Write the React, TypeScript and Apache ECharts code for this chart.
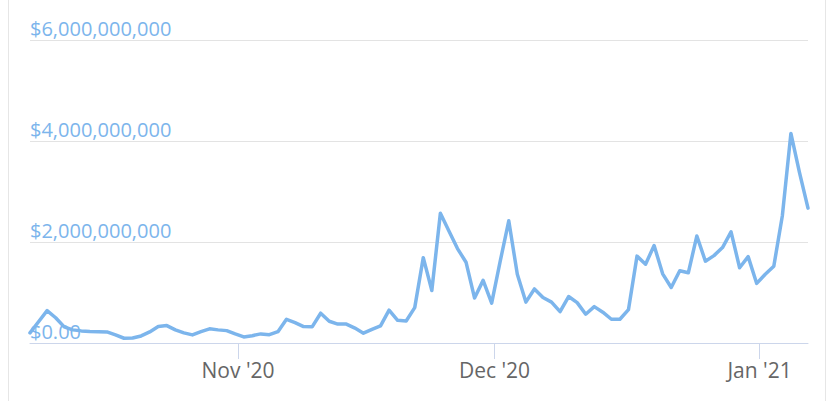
import React, { useEffect, useRef } from "react";
import * as echarts from "echarts";

// Daily points (UTC midnight), starting on this date
const START_DATE_UTC = "2020-10-08";
// The reference chart displays dates in a UTC-8 time zone
const DISPLAY_UTC_OFFSET_HOURS = -8;

// Daily volume, in billions of dollars
const volumeBillions: number[] = [
  0.2, 0.42, 0.64, 0.5, 0.32, 0.26, 0.24, 0.23, 0.225, 0.22,
  0.16, 0.094, 0.1, 0.14, 0.22, 0.325, 0.345, 0.26, 0.2, 0.16,
  0.225, 0.28, 0.26, 0.245, 0.18, 0.12, 0.145, 0.18, 0.165, 0.225,
  0.47, 0.405, 0.325, 0.32, 0.59, 0.43, 0.375, 0.375, 0.295, 0.195,
  0.27, 0.34, 0.65, 0.45, 0.435, 0.7, 1.69, 1.04, 2.57, 2.22,
  1.87, 1.6, 0.89, 1.24, 0.79, 1.62, 2.42, 1.36, 0.81, 1.07,
  0.9, 0.81, 0.62, 0.92, 0.8, 0.57, 0.72, 0.61, 0.47, 0.47,
  0.66, 1.72, 1.56, 1.93, 1.37, 1.1, 1.43, 1.39, 2.12, 1.62,
  1.73, 1.89, 2.2, 1.49, 1.71, 1.18, 1.36, 1.52, 2.52, 4.15,
  3.38, 2.67,
];

const monthTickDates = ["2020-11-01", "2020-12-01", "2021-01-01"];
const yTickValues = [0, 2e9, 4e9, 6e9];
const monthNames = ["Jan", "Feb", "Mar", "Apr", "May", "Jun", "Jul", "Aug", "Sep", "Oct", "Nov", "Dec"];

const DAY = 86400000;
const HOUR = 3600000;

export default function App() {
  const ref = useRef<HTMLDivElement>(null);

  useEffect(() => {
    if (!ref.current) return;
    const chart = echarts.init(ref.current, null, { renderer: "svg" });

    const start = Date.parse(START_DATE_UTC + "T00:00:00Z");
    const data = volumeBillions.map((v, i) => [start + i * DAY, v * 1e9]);
    const monthTickValues = monthTickDates.map(
      (d) => Date.parse(d + "T00:00:00Z") - DISPLAY_UTC_OFFSET_HOURS * HOUR
    );
    const fmtDate = (v: number) => {
      const d = new Date(v + DISPLAY_UTC_OFFSET_HOURS * HOUR);
      return monthNames[d.getUTCMonth()] + " '" + String(d.getUTCFullYear()).slice(2);
    };
    const font = "'Open Sans', 'Noto Sans', sans-serif";

    chart.setOption({
      animation: false,
      grid: { left: 21, right: 17, top: 40, bottom: 58, containLabel: false },
      xAxis: {
        type: "value",
        min: data[0][0],
        max: data[data.length - 1][0],
        splitLine: { show: false },
        axisLine: { show: true, lineStyle: { color: "#ccd6eb", width: 1 } },
        axisTick: {
          show: true,
          customValues: monthTickValues,
          length: 16,
          lineStyle: { color: "#ccd6eb", width: 1 },
        },
        axisLabel: {
          customValues: monthTickValues,
          formatter: (v: number) => fmtDate(v),
          color: "#666666",
          fontSize: 21,
          fontFamily: font,
          margin: 16,
        },
      },
      yAxis: {
        type: "value",
        min: yTickValues[0],
        max: yTickValues[yTickValues.length - 1],
        interval: yTickValues[1] - yTickValues[0],
        axisLine: { show: false },
        axisTick: { show: false },
        splitLine: { show: true, lineStyle: { color: "#e3e3e3", width: 1 } },
        axisLabel: {
          inside: true,
          margin: 0,
          align: "left",
          verticalAlign: "bottom",
          padding: [0, 0, 2, 0],
          color: "#7cb5ec",
          fontSize: 20,
          fontFamily: font,
          formatter: (v: number) =>
            v === 0 ? "$0.00" : "$" + v.toLocaleString("en-US"),
        },
      },
      series: [
        {
          type: "line",
          data,
          showSymbol: false,
          symbol: "none",
          lineStyle: { color: "#7cb5ec", width: 3.5, join: "round", cap: "round" },
          z: 3,
        },
      ],
    });

    return () => chart.dispose();
  }, []);

  return (
    <div
      style={{
        position: "absolute",
        left: 8,
        top: 0,
        width: 818,
        height: 401,
        boxSizing: "border-box",
        borderLeft: "1px solid #e6e6e6",
        borderRight: "1px solid #e6e6e6",
      }}
    >
      <div ref={ref} style={{ width: 816, height: 401 }} />
    </div>
  );
}
